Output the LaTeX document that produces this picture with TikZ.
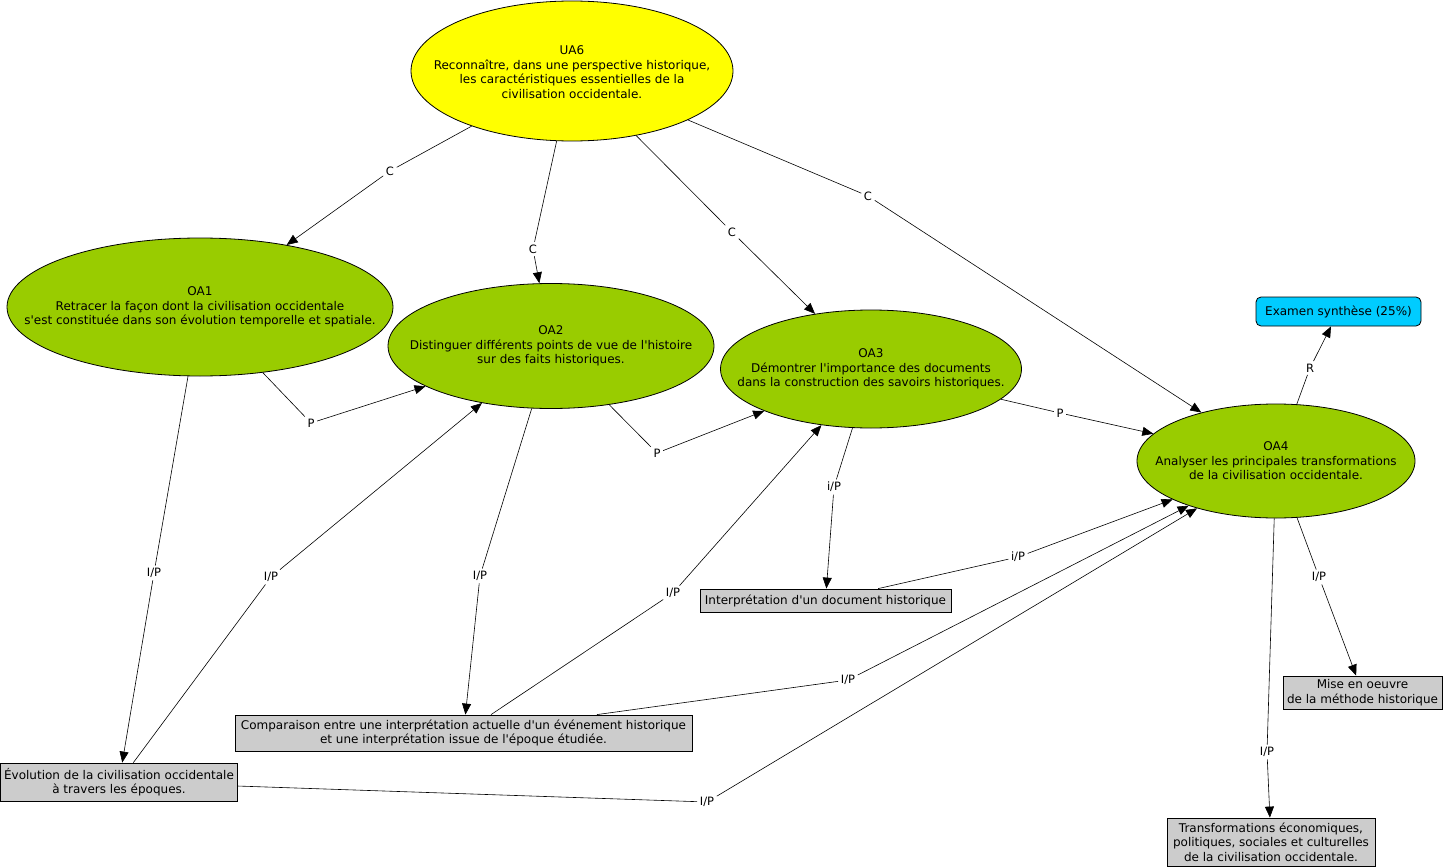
\documentclass[tikz,border=0pt]{standalone}
\usepackage{fontspec}
\setmainfont{DejaVu Sans}
\usetikzlibrary{shapes.geometric,arrows.meta}
\definecolor{uayellow}{RGB}{255,255,0}
\definecolor{oagreen}{RGB}{153,204,0}
\definecolor{boxgrey}{RGB}{204,204,204}
\definecolor{examcyan}{RGB}{0,204,255}
\newcommand{\ap}{\textquotesingle}
\begin{document}
\begin{tikzpicture}[x=1pt,y=-1pt,
  every node/.style={font=\fontsize{12}{14.5}\selectfont},
  ell/.style={ellipse,draw=black,line width=0.8pt,inner sep=0pt},
  txt/.style={align=center,inner sep=0pt},
  box/.style={draw=black,fill=boxgrey,line width=0.8pt,align=center,inner sep=0pt},
  lab/.style={inner sep=2.5pt,font=\fontsize{11.5}{13}\selectfont},
  con/.style={draw=black,line width=0.6pt},
  arr/.style={con,-{Triangle[length=11pt,width=9pt]}}
]
\useasboundingbox[fill=white] (0,0) rectangle (1444,867);

% ellipses
\node[ell,fill=uayellow,minimum width=322,minimum height=140] (ua6) at (572,71) {};
\node[txt] (ua6t) at (572,72) {UA6\\Reconnaître, dans une perspective historique,\\les caractéristiques essentielles de la\\civilisation occidentale.};
\node[ell,fill=oagreen,minimum width=386,minimum height=138] (oa1) at (200,307) {};
\node[txt] (oa1t) at (200,307) {OA1\\Retracer la façon dont la civilisation occidentale\\s\ap est constituée dans son évolution temporelle et spatiale.};
\node[ell,fill=oagreen,minimum width=326,minimum height=125] (oa2) at (551,346) {};
\node[txt] (oa2t) at (551,346) {OA2\\Distinguer différents points de vue de l\ap histoire\\sur des faits historiques.};
\node[ell,fill=oagreen,minimum width=301,minimum height=118] (oa3) at (871,369) {};
\node[txt] (oa3t) at (871,369) {OA3\\Démontrer l\ap importance des documents\\dans la construction des savoirs historiques.};
\node[ell,fill=oagreen,minimum width=278,minimum height=114] (oa4) at (1276,461) {};
\node[txt] (oa4t) at (1276,461) {OA4\\Analyser les principales transformations\\de la civilisation occidentale.};

% boxes
\node[box,fill=examcyan,rounded corners=5pt,minimum width=165,minimum height=29] (exam) at (1338.5,311.5) {Examen synthèse (25\%)};
\node[box,minimum width=251,minimum height=23] (interp) at (825.5,600.5) {Interprétation d\ap un document historique};
\node[box,minimum width=457,minimum height=36] (comp) at (463.5,733) {Comparaison entre une interprétation actuelle d\ap un événement historique\\et une interprétation issue de l\ap époque étudiée.};
\node[box,minimum width=237,minimum height=38] (evol) at (119,782) {Évolution de la civilisation occidentale\\à travers les époques.};
\node[box,minimum width=159,minimum height=33] (mise) at (1362.5,692.5) {Mise en oeuvre\\de la méthode historique};
\node[box,minimum width=208,minimum height=48] (trans) at (1271,842) {Transformations économiques,\\politiques, sociales et culturelles\\de la civilisation occidentale.};

% labels
\node[lab] (c1) at (390,171) {C};
\node[lab] (c2) at (533,249) {C};
\node[lab] (c3) at (732,232) {C};
\node[lab] (c4) at (868,196) {C};
\node[lab] (r1) at (1310,368) {R};
\node[lab] (p1) at (311,423) {P};
\node[lab] (p2) at (657,453) {P};
\node[lab] (p3) at (1060,413) {P};
\node[lab] (ip1) at (154,573) {I/P};
\node[lab] (ip2) at (271,577) {I/P};
\node[lab] (ip3) at (480,576) {I/P};
\node[lab] (ip4) at (673,593) {I/P};
\node[lab] (ip5) at (834,487) {i/P};
\node[lab] (ip6) at (1018,557) {i/P};
\node[lab] (ip7) at (848,680) {I/P};
\node[lab] (ip8) at (707,802) {I/P};
\node[lab] (ip9) at (1319,577) {I/P};
\node[lab] (ip10) at (1267,752) {I/P};

% connectors
\draw[con] (ua6) -- (c1); \draw[arr] (c1) -- (oa1);
\draw[con] (ua6) -- (c2); \draw[arr] (c2) -- (oa2);
\draw[con] (ua6) -- (c3); \draw[arr] (c3) -- (oa3);
\draw[con] (ua6) -- (c4); \draw[arr] (c4) -- (oa4);
\draw[con] (oa4) -- (r1); \draw[arr] (r1) -- (exam);
\draw[con] (oa1) -- (p1); \draw[arr] (p1) -- (oa2);
\draw[con] (oa2) -- (p2); \draw[arr] (p2) -- (oa3);
\draw[con] (oa3) -- (p3); \draw[arr] (p3) -- (oa4);
\draw[con] (oa1) -- (ip1); \draw[arr] (ip1) -- (evol);
\draw[con] (evol) -- (ip2); \draw[arr] (ip2) -- (oa2);
\draw[con] (oa2) -- (ip3); \draw[arr] (ip3) -- (comp);
\draw[con] (comp) -- (ip4); \draw[arr] (ip4) -- (oa3);
\draw[con] (oa3) -- (ip5); \draw[arr] (ip5) -- (interp);
\draw[con] (interp) -- (ip6); \draw[arr] (ip6) -- (oa4);
\draw[con] (comp) -- (ip7); \draw[arr] (ip7) -- (oa4);
\draw[con] (evol) -- (ip8); \draw[arr] (ip8) -- (oa4);
\draw[con] (oa4) -- (ip9); \draw[arr] (ip9) -- (mise);
\draw[con] (oa4) -- (ip10); \draw[arr] (ip10) -- (trans);
\end{tikzpicture}
\end{document}
